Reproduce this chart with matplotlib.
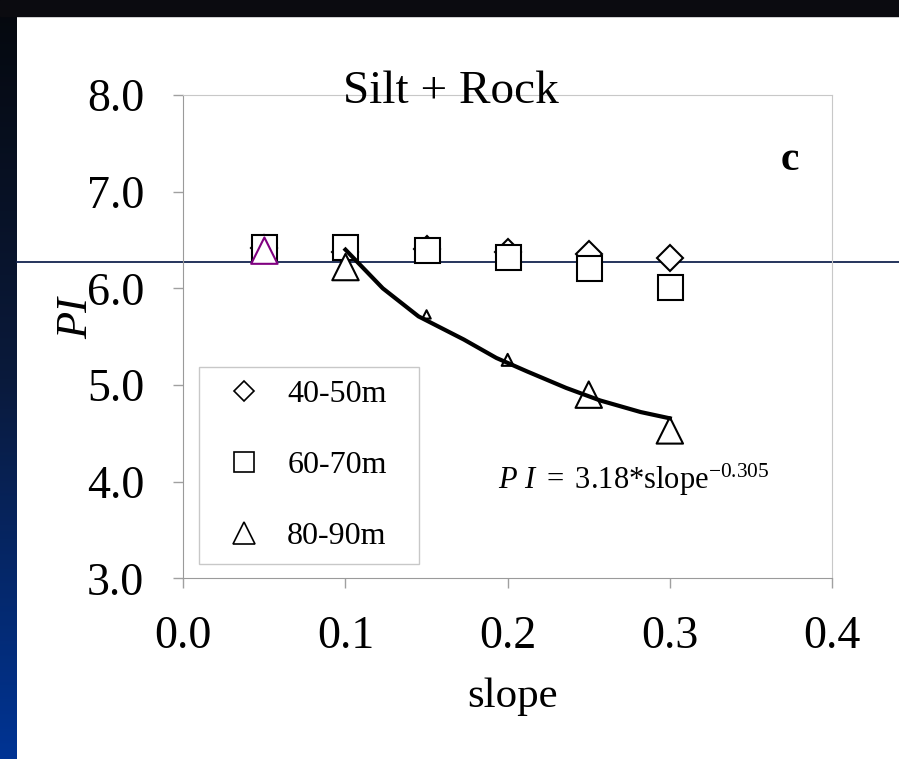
import numpy as np
import matplotlib.pyplot as plt
from matplotlib.lines import Line2D
from matplotlib.patches import Rectangle

plt.rcParams['font.family'] = ['Liberation Serif', 'DejaVu Serif']
plt.rcParams['mathtext.fontset'] = 'custom'
plt.rcParams['mathtext.rm'] = 'Liberation Serif'
plt.rcParams['mathtext.it'] = 'Liberation Serif:italic'

# values
slope = [0.05, 0.10, 0.15, 0.20, 0.25, 0.30]
pi_40_50 = [6.42, 6.38, 6.41, 6.38, 6.36, 6.31]
pi_60_70 = [6.43, 6.43, 6.40, 6.32, 6.21, 6.01]
pi_80_90 = [6.39, 6.22, 5.73, 5.26, 4.90, 4.53]

# power-law trend line through the 80-90m points (traced)
fit_slope = [0.100, 0.123, 0.145, 0.173, 0.193, 0.212, 0.236, 0.257, 0.282, 0.300]
fit_pi = [6.40, 6.00, 5.71, 5.47, 5.28, 5.14, 4.97, 4.84, 4.72, 4.655]

labels = ['40-50m', '60-70m', '80-90m']
x_ticks = [0.0, 0.1, 0.2, 0.3, 0.4]
y_ticks = [3.0, 4.0, 5.0, 6.0, 7.0, 8.0]

W, H = 899, 759
fig = plt.figure(figsize=(W / 100, H / 100), dpi=100)
fig.patch.set_facecolor('white')

# slide background: dark strip at the top, blue gradient on the left
grad = fig.add_axes([0, 0, 17 / W, 1])
grad.imshow(np.linspace(0, 1, 256).reshape(-1, 1), aspect='auto',
            cmap=plt.matplotlib.colors.LinearSegmentedColormap.from_list(
                'slide', ['#05080d', '#0a1a3c', '#003494']),
            extent=[0, 1, 0, 1], origin='upper')
grad.set_axis_off()
fig.add_artist(Rectangle((0, 1 - 16 / H), 1, 16 / H, transform=fig.transFigure,
                         color='#0b0b10', zorder=2))
fig.add_artist(Line2D([17 / W, 1], [1 - 262.3 / H] * 2, transform=fig.transFigure,
                      color='#14244f', lw=1.3, zorder=0.5))

ax = fig.add_axes([183.3 / W, 1 - 578.3 / H, 648.7 / W, 483.3 / H])
ax.set_zorder(1)
ax.set_facecolor('none')

ax.plot(slope, pi_40_50, ls='none', marker='D', ms=13, mfc='white', mec='black', mew=1.5, zorder=3)
ax.plot(slope, pi_60_70, ls='none', marker='s', ms=18, mfc='white', mec='black', mew=1.5, zorder=4)
ax.scatter(slope, pi_80_90, marker='^', s=[361, 361, 36, 74, 361, 361],
           facecolors='white', edgecolors=['#800080'] + ['black'] * 5,
           linewidths=1.5, zorder=5)
ax.plot(fit_slope, fit_pi, color='black', lw=3, zorder=6)

ax.set_xlim(0, 0.4)
ax.set_ylim(3, 8)
ax.set_xticks(x_ticks)
ax.set_yticks(y_ticks)
ax.set_xticklabels(['%.1f' % v for v in x_ticks])
ax.set_yticklabels(['%.1f' % v for v in y_ticks])
ax.tick_params(direction='out', length=7, width=1, color='#a0a0a0', labelsize=33)
ax.tick_params(axis='x', pad=20)
ax.tick_params(axis='y', pad=21)
for side in ['left', 'bottom']:
    ax.spines[side].set_color('#9a9a9a')
for side in ['top', 'right']:
    ax.spines[side].set_color('#c8c8c8')

handles = [
    Line2D([], [], ls='none', marker='D', ms=10, mfc='white', mec='black', mew=1.2),
    Line2D([], [], ls='none', marker='s', ms=14, mfc='white', mec='black', mew=1.2),
    Line2D([], [], ls='none', marker='^', ms=16, mfc='white', mec='black', mew=1.2),
]
leg = ax.legend(handles, labels, loc='lower left',
                bbox_to_anchor=(0.0247, 0.0296, 0.339, 0.40), mode='expand',
                borderaxespad=0, fontsize=23, labelspacing=1.3, handlelength=2.0,
                handletextpad=0.35, borderpad=0.4, fancybox=False,
                edgecolor='#c8c8c8', framealpha=1)
leg.get_frame().set_linewidth(1.0)

fig.text(451 / W, 1 - 92 / H, 'Silt + Rock', fontsize=34, ha='center', va='center')
fig.text(790 / W, 1 - 160 / H, 'c', fontsize=30, fontweight='bold', ha='center', va='center')
fig.text(513 / W, 1 - 697 / H, 'slope', fontsize=31, ha='center', va='center')
fig.text(76 / W, 1 - 318 / H, 'PI', fontsize=32, style='italic', rotation=90,
         ha='center', va='center')
fig.text(498 / W, 1 - 480 / H,
         r'$\mathit{P\ I}\ {=}\ \mathrm{3.18{*}slope}^{\mathrm{-0.305}}$',
         fontsize=22, ha='left', va='center')

fig.savefig('out.png', dpi=100)
